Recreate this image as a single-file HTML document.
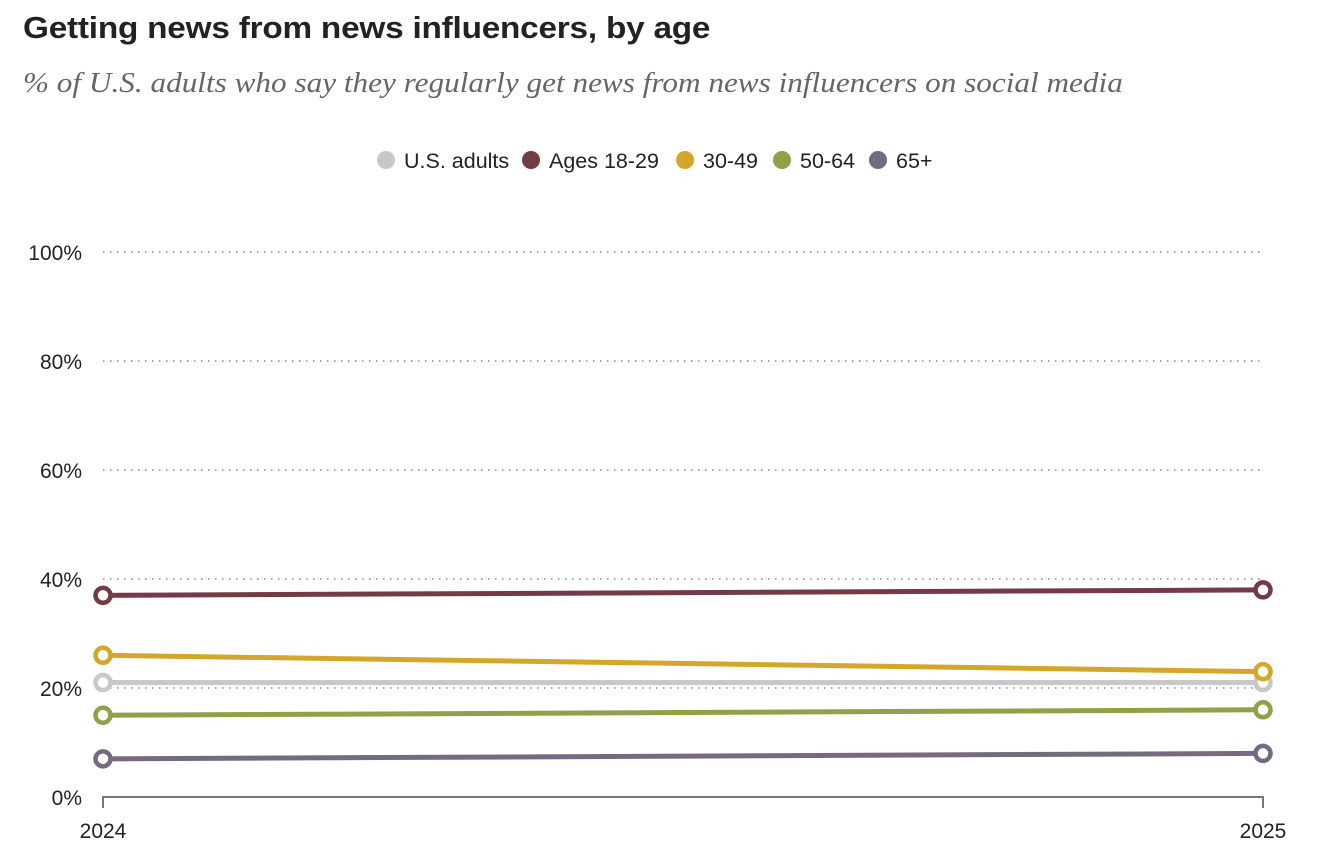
<!DOCTYPE html>
<html><head><meta charset="utf-8">
<style>
body{margin:0;background:#fff;width:1326px;height:860px;overflow:hidden;font-family:"Liberation Sans",sans-serif}
h1{position:absolute;left:23px;top:10px;margin:0;font-size:31px;font-weight:bold;color:#222;letter-spacing:-0.2px;white-space:nowrap;transform:scaleX(1.075);transform-origin:left}
.sub{position:absolute;left:23px;top:68px;font-family:"Liberation Serif",serif;font-style:italic;font-size:28px;color:#666;white-space:nowrap;transform:scaleX(1.115);transform-origin:left}
</style></head><body>
<h1>Getting news from news influencers, by age</h1>
<div class="sub">% of U.S. adults who say they regularly get news from news influencers on social media</div>
<svg id="chart" width="1326" height="860" style="position:absolute;left:0;top:0"></svg>
<script>
const years=["2024","2025"];
const seriesNames=["U.S. adults","Ages 18-29","30-49","50-64","65+"];
const usAdults=[21,21];
const ages18to29=[37,38];
const ages30to49=[26,23];
const ages50to64=[15,16];
const ages65plus=[7,8];
const yTicks=[0,20,40,60,80,100];
const colors=["#c8c8c8","#733b46","#d4a72c","#939f49","#756b80"];
const allSeries=[usAdults,ages18to29,ages30to49,ages50to64,ages65plus];
const NS="http://www.w3.org/2000/svg";
const svg=document.getElementById('chart');
const x0=103,x1=1263,yb=797,yt=252;
const x=i=>x0+(x1-x0)*i/(years.length-1);
const y=v=>yb-(yb-yt)*v/100;
function mk(t,a,p){const e=document.createElementNS(NS,t);for(const k in a)e.setAttribute(k,a[k]);(p||svg).appendChild(e);return e;}
yTicks.forEach(v=>{
  if(v>0){const g=mk('line',{x1:x0,x2:x1,y1:y(v),y2:y(v),stroke:'#888','stroke-width':1.5,'stroke-dasharray':'1.5 5.5'});
  
  }
  const t=mk('text',{x:82,y:y(v)+8,'text-anchor':'end','font-size':21,fill:'#222','font-family':'Liberation Sans'});
  t.textContent=v+'%';
  
  
});
const ax=mk('path',{d:`M${x0} 808V${yb}H${x1}V808`,fill:'none',stroke:'#777','stroke-width':2});


years.forEach((yr,i)=>{
  const t=mk('text',{x:x(i),y:838,'text-anchor':'middle','font-size':21,fill:'#222','font-family':'Liberation Sans'});
  t.textContent=yr;
  
  
});
allSeries.forEach((s,k)=>{
  const l=mk('polyline',{points:s.map((v,i)=>x(i)+','+y(v)).join(' '),fill:'none',stroke:colors[k],'stroke-width':5});
  
  
  s.forEach((v,i)=>{
    const c=mk('circle',{cx:x(i),cy:y(v),r:7.5,fill:'#fff',stroke:colors[k],'stroke-width':4.5});
    
    
  });
});
// legend
const legendX=[377,522,676,773,869];
seriesNames.forEach((n,k)=>{
  const lx=legendX[k];
  const c=mk('circle',{cx:lx+9,cy:160,r:9,fill:colors[k]});
  
  
  const t=mk('text',{x:lx+27,y:168,'font-size':21.5,fill:'#222','font-family':'Liberation Sans'});
  t.textContent=n;
  
  
});
</script>
</body></html>
